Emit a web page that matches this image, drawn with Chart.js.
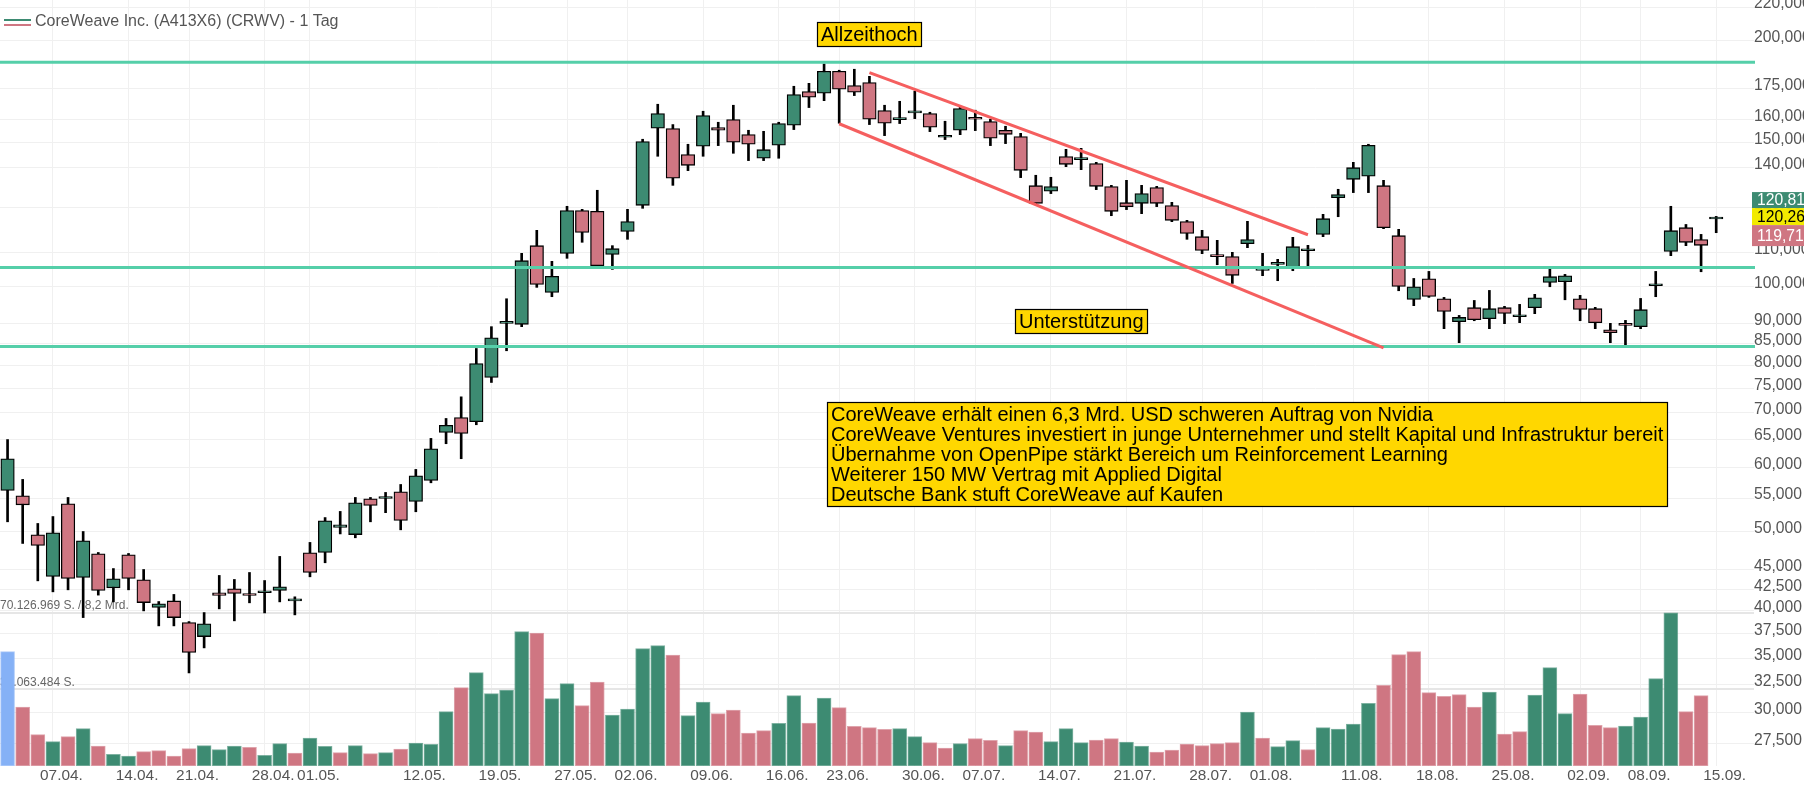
<!DOCTYPE html>
<html lang="de">
<head>
<meta charset="utf-8">
<title>CoreWeave Inc.</title>
<script src="https://cdn.jsdelivr.net/npm/chart.js@4/dist/chart.umd.min.js"></script>
<style>
  html, body { margin: 0; padding: 0; background: #fff; overflow: hidden; }
  canvas { display: block; }
</style>
</head>
<body>
<canvas id="chart" width="1804" height="790"></canvas>
<script>
// prices, one row per ten trading days
const open = [
  56.22,55.38,49.59,44.09,54.14,43.97,47.01,42.70,46.88,43.68,
  40.39,41.15,38.71,37.21,42.11,42.58,41.99,42.11,42.38,41.15,
  47.14,47.18,50.63,49.63,54.90,54.95,56.01,54.49,57.83,66.21,
  69.07,68.25,77.35,90.10,89.85,112.20,98.34,109.79,123.86,123.62,
  109.48,116.82,125.74,156.30,156.15,145.09,148.54,156.60,160.16,153.50,
  143.60,148.96,157.63,173.36,172.54,183.60,176.30,177.78,164.30,160.16,
  163.21,162.90,152.37,155.41,161.20,159.27,155.41,152.65,132.90,130.82,
  144.28,143.06,141.44,132.54,126.68,126.45,132.17,125.62,120.07,115.08,
  108.87,108.77,112.84,104.64,106.42,105.22,110.61,115.83,128.48,135.32,
  136.48,132.90,115.40,96.39,102.16,96.58,90.52,94.18,91.28,94.18,
  91.79,94.18,101.13,101.32,96.58,93.91,88.49,90.10,89.26,100.19,
  110.40,118.05,114.12,120.97
];
const close = [
  61.48,53.98,48.13,49.87,43.84,48.77,42.38,43.80,43.84,40.96,
  40.81,39.26,35.57,38.57,41.79,42.03,41.79,42.15,42.82,41.39,
  44.59,51.59,51.02,54.29,53.88,55.06,51.64,58.60,63.22,67.55,
  66.02,80.45,86.52,90.27,107.54,100.57,102.89,123.86,116.49,106.02,
  111.24,120.07,150.53,162.90,135.71,140.76,161.97,155.41,150.24,149.39,
  147.12,158.38,171.89,170.59,183.60,174.50,173.04,160.31,158.53,160.31,
  163.37,156.75,152.65,165.23,160.31,151.95,153.65,138.80,126.45,132.54,
  141.17,143.19,132.66,123.62,125.27,129.96,126.45,120.52,116.15,110.71,
  108.77,103.18,114.12,104.83,106.73,111.88,110.71,121.08,129.59,139.83,
  148.96,118.05,100.00,99.91,97.23,93.20,91.62,91.03,93.91,92.67,
  91.88,96.86,102.79,103.07,93.73,90.27,87.74,89.60,93.64,100.29,
  117.05,113.27,112.31,121.08
];
const high = [
  64.90,57.99,51.21,52.22,55.11,50.06,47.18,45.09,47.05,44.97,
  41.08,41.91,38.82,39.82,44.22,43.72,44.59,43.59,46.66,41.63,
  48.54,52.07,52.98,55.11,55.11,55.90,57.17,59.65,65.11,68.88,
  73.22,83.93,89.26,96.58,109.79,117.16,107.34,125.39,124.33,131.19,
  112.20,124.33,151.52,167.26,157.93,149.39,163.99,158.97,166.79,155.41,
  154.96,158.97,175.97,177.44,187.44,184.12,184.63,180.99,166.79,168.66,
  173.52,163.52,159.42,166.16,164.46,160.31,157.19,154.07,136.87,136.09,
  147.26,147.69,141.96,133.03,134.93,133.03,132.66,126.80,120.52,117.16,
  113.91,110.10,120.18,109.79,107.95,114.87,112.31,122.57,131.56,141.96,
  149.39,134.93,117.49,102.28,104.33,96.95,92.14,96.12,98.88,94.53,
  95.06,97.79,105.13,103.46,97.51,94.27,90.10,90.86,96.67,104.33,
  125.39,119.12,115.83,121.87
];
const low = [
  51.45,48.40,43.55,42.22,42.46,39.26,41.83,41.04,42.46,40.01,
  38.35,38.35,33.58,36.04,40.24,38.90,40.93,39.78,41.04,39.56,
  44.05,45.83,49.72,49.18,51.45,52.79,50.30,52.93,57.44,64.14,
  61.48,67.67,76.25,83.39,89.26,99.74,97.14,108.26,113.27,105.71,
  104.93,114.23,124.68,144.41,133.03,138.67,144.41,148.82,145.63,142.65,
  142.65,143.60,155.71,165.70,168.97,158.53,171.40,157.93,153.08,158.38,
  160.60,154.82,151.38,153.50,155.26,148.82,149.67,135.96,126.21,129.96,
  140.22,139.06,131.43,122.10,124.22,122.81,125.27,120.07,114.23,109.69,
  106.32,100.85,111.56,103.08,101.63,104.54,105.71,115.08,121.75,130.33,
  130.33,117.71,98.79,94.71,96.95,88.75,85.31,90.77,88.75,90.02,
  90.27,92.59,99.91,96.30,90.77,88.75,85.31,84.66,88.75,97.14,
  109.08,112.20,104.23,116.38
];
// volume in million shares, the last day has no bar yet
const volume = [
  52.40,27.04,14.36,11.15,13.44,17.11,9.17,5.35,4.58,6.57,
  7.03,4.58,7.94,9.32,7.49,9.17,8.56,4.89,10.24,5.96,
  12.83,9.01,6.11,9.32,5.65,6.11,7.79,10.54,9.93,24.90,
  35.90,42.78,33.15,34.83,61.57,60.96,30.86,37.74,27.65,38.50,
  23.38,26.13,53.78,55.15,50.88,23.07,29.33,23.99,25.67,15.13,
  16.19,19.56,32.24,19.71,31.17,26.74,18.18,17.57,16.81,17.11,
  13.44,10.69,8.25,10.24,12.53,11.76,9.32,16.19,15.58,11.15,
  17.11,10.69,11.92,12.53,11.00,9.17,6.42,7.33,10.08,9.32,
  10.24,10.69,24.75,12.83,8.86,11.61,7.49,17.57,16.96,19.25,
  28.72,36.97,51.03,52.40,33.61,31.93,32.69,27.04,33.92,14.67,
  15.74,32.54,45.07,23.99,33.00,18.64,17.57,18.33,22.46,40.03,
  70.13,24.90,32.24,null
];

const tickDays = [3,8,12,17,20,27,32,37,41,46,51,55,60,64,69,74,79,83,89,94,99,104,108,113];
const tickDates = ["07.04.","14.04.","21.04.","28.04.","01.05.","12.05.","19.05.","27.05.","02.06.","09.06.","16.06.","23.06.","30.06.","07.07.","14.07.","21.07.","28.07.","01.08.","11.08.","18.08.","25.08.","02.09.","08.09.","15.09."];
const priceTicks = [220,200,175,160,150,140,125,110,100,90,85,80,75,70,65,60,55,50,45,42.5,40,37.5,35,32.5,30,27.5];
const volumeTicks = [70.126969, 35.063484];
const volumeTickLabels = ["70.126.969 S. / 8,2 Mrd.", "35.063.484 S."];

const levels = [188.3, 105.5, 84.4];
const upperTrendDays = [57, 86];
const upperTrendValues = [182.9, 115.7];
const lowerTrendDays = [55, 91];
const lowerTrendValues = [158.3, 84.09];

const newsLines = [
  "CoreWeave erhält einen 6,3 Mrd. USD schweren Auftrag von Nvidia",
  "CoreWeave Ventures investiert in junge Unternehmer und stellt Kapital und Infrastruktur bereit",
  "Übernahme von OpenPipe stärkt Bereich um Reinforcement Learning",
  "Weiterer 150 MW Vertrag mit Applied Digital",
  "Deutsche Bank stuft CoreWeave auf Kaufen"
];

const GREEN = "#3d8b72";
const RED = "#cf7682";
const BLUE = "#85b1f6";
const TEAL = "#55cfa9";
const GOLD = "#ffd700";
const FONT = "'Liberation Sans', Arial, sans-serif";

Chart.defaults.font.family = FONT;

const days = Array.from({ length: 116 }, (_, i) => String(i));

const trendSeries = (trendDays, trendValues) => {
  const series = days.map(() => null);
  trendDays.forEach((d, i) => { series[d] = trendValues[i]; });
  return series;
};

const volumeColor = i => {
  if (i === 0) return BLUE;
  return close[i] >= close[i - 1] ? GREEN : RED;
};

const drawBox = (ctx, x, y, w, h) => {
  ctx.fillStyle = GOLD;
  ctx.fillRect(x, y, w, h);
  ctx.strokeStyle = "#000";
  ctx.lineWidth = 1.2;
  ctx.strokeRect(x + 0.5, y + 0.5, w - 1, h - 1);
};

const overlays = {
  id: "overlays",
  afterDatasetDraw(chart, args) {
    // support levels run over the candles but under the red channel
    if (chart.data.datasets[args.index].label !== "body") return;
    const { ctx, chartArea, scales } = chart;
    ctx.save();
    ctx.strokeStyle = TEAL;
    ctx.lineWidth = 3;
    levels.forEach(v => {
      const y = scales.y.getPixelForValue(v);
      ctx.beginPath();
      ctx.moveTo(0, y);
      ctx.lineTo(chartArea.right + 1, y);
      ctx.stroke();
    });
    ctx.restore();
  },
  afterDraw(chart) {
    const { ctx, scales } = chart;
    ctx.save();

    // series name
    ctx.fillStyle = GREEN;
    ctx.fillRect(4, 19, 27, 2);
    ctx.fillStyle = RED;
    ctx.fillRect(4, 24, 27, 2);
    ctx.fillStyle = "#555";
    ctx.font = "16px " + FONT;
    ctx.textBaseline = "middle";
    ctx.textAlign = "left";
    ctx.fillText("CoreWeave Inc. (A413X6) (CRWV) - 1 Tag", 35, 22);

    // callouts
    ctx.font = "20px " + FONT;
    drawBox(ctx, 817, 22, 105, 25);
    ctx.fillStyle = "#000";
    ctx.fillText("Allzeithoch", 821, 35);
    drawBox(ctx, 1015, 309, 133, 25);
    ctx.fillStyle = "#000";
    ctx.fillText("Unterstützung", 1019, 322);
    drawBox(ctx, 827, 402, 841, 105);
    ctx.fillStyle = "#000";
    newsLines.forEach((line, i) => ctx.fillText(line, 831, 415 + i * 20));

    // last price tags
    const mid = scales.y.getPixelForValue(120.26) - 4;
    const tags = [
      { text: "120,81", bg: GREEN, fg: "#fff", top: mid - 25, h: 16 },
      { text: "120,26", bg: "#f2ea00", fg: "#000", top: mid - 9, h: 17 },
      { text: "119,71", bg: RED, fg: "#fff", top: mid + 8, h: 21 }
    ];
    ctx.font = "15.7px " + FONT;
    tags.forEach(t => {
      ctx.fillStyle = t.bg;
      ctx.fillRect(1752, t.top, 52, t.h);
      ctx.fillStyle = t.fg;
      ctx.fillText(t.text, 1757, t.top + t.h / 2 + 1);
    });
    ctx.restore();
  }
};

new Chart(document.getElementById("chart"), {
  data: {
    labels: days,
    datasets: [
      {
        type: "line",
        label: "upper channel",
        data: trendSeries(upperTrendDays, upperTrendValues),
        borderColor: "#f55f5f",
        borderWidth: 3,
        pointRadius: 0,
        spanGaps: true,
        order: 0
      },
      {
        type: "line",
        label: "lower channel",
        data: trendSeries(lowerTrendDays, lowerTrendValues),
        borderColor: "#f55f5f",
        borderWidth: 3,
        pointRadius: 0,
        spanGaps: true,
        order: 0
      },
      {
        type: "bar",
        label: "body",
        data: open.map((o, i) => [o, close[i]]),
        backgroundColor: open.map((o, i) => (close[i] >= o ? GREEN : RED)),
        borderColor: "#000",
        borderWidth: 1.3,
        borderSkipped: false,
        barThickness: 13.5,
        minBarLength: 2,
        grouped: false,
        order: 1
      },
      {
        type: "bar",
        label: "wick",
        data: low.map((l, i) => [l, high[i]]),
        backgroundColor: "#000",
        barThickness: 2,
        grouped: false,
        order: 2
      },
      {
        type: "bar",
        label: "volume",
        yAxisID: "yVol",
        data: volume,
        backgroundColor: volume.map((_, i) => volumeColor(i)),
        borderColor: volume.map((_, i) => volumeColor(i) + "aa"),
        borderWidth: 1,
        borderSkipped: false,
        barThickness: 14,
        grouped: false,
        order: 3
      }
    ]
  },
  options: {
    responsive: false,
    animation: false,
    layout: { padding: 0 },
    plugins: { legend: { display: false }, tooltip: { enabled: false }, title: { display: false } },
    scales: {
      x: {
        type: "category",
        offset: true,
        afterBuildTicks(scale) { scale.ticks = tickDays.map(d => ({ value: d })); },
        afterFit(scale) {
          scale.height = 24;
          scale.paddingLeft = 0;
          scale.paddingRight = 0;
        },
        grid: { offset: false, color: "#f0f0f0", lineWidth: 1, drawTicks: false },
        border: { display: false },
        ticks: {
          autoSkip: false,
          maxRotation: 0,
          padding: 1,
          labelOffset: 8.5,
          color: "#555",
          font: { size: 15.4 },
          callback: (value, index) => tickDates[index]
        }
      },
      y: {
        type: "logarithmic",
        position: "right",
        min: 25.82,
        max: 224.5,
        afterBuildTicks(scale) { scale.ticks = priceTicks.map(v => ({ value: v })); },
        afterFit(scale) {
          scale.width = 50;
          scale.paddingTop = 0;
          scale.paddingBottom = 0;
        },
        grid: { color: "#f0f0f0", lineWidth: 1, drawTicks: false },
        border: { display: false },
        ticks: {
          autoSkip: false,
          padding: 0,
          labelOffset: -3,
          color: "#555",
          font: { size: 15.7 },
          callback: v => v.toFixed(3).replace(".", ",")
        }
      },
      yVol: {
        type: "linear",
        position: "left",
        min: 0,
        max: 351,
        afterBuildTicks(scale) { scale.ticks = volumeTicks.map(v => ({ value: v })); },
        afterFit(scale) {
          scale.width = 0;
          scale.paddingTop = 0;
          scale.paddingBottom = 0;
        },
        grid: { color: "#e6e6e6", lineWidth: 2, drawTicks: false },
        border: { display: false },
        ticks: {
          autoSkip: false,
          mirror: true,
          padding: 0,
          labelOffset: -7,
          color: "#666",
          font: { size: 12 },
          callback: (value, index) => volumeTickLabels[index]
        }
      }
    }
  },
  plugins: [overlays]
});
</script>
</body>
</html>
